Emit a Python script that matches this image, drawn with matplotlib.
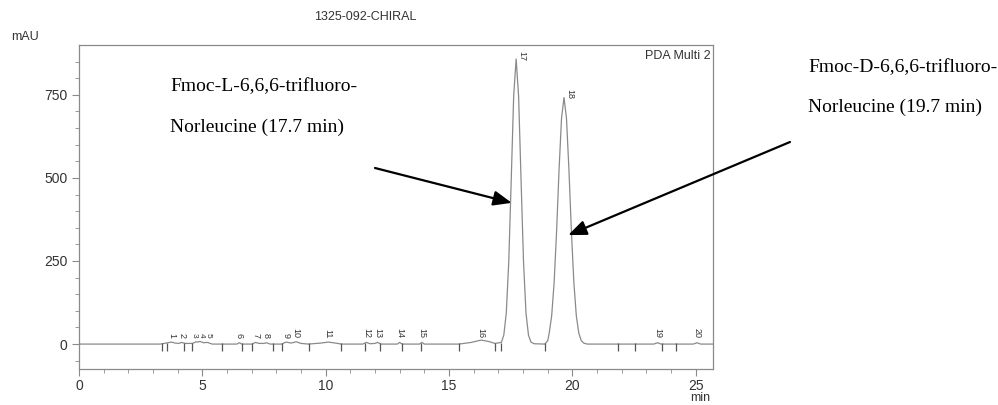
import numpy as np
import matplotlib
matplotlib.use("Agg")
import matplotlib.pyplot as plt

# chromatogram trace (time in min, signal in mAU)
time = [0.0, 3.3, 3.45, 3.6, 3.75, 3.9, 4.05, 4.16, 4.3, 4.6, 4.75, 4.82,
        4.9, 5.05, 5.2, 5.4, 6.4, 6.5, 6.6, 7.02, 7.15, 7.3, 7.5, 7.6, 7.75,
        8.2, 8.4, 8.6, 8.8, 9.0, 9.3, 9.8, 10.1, 10.4, 10.63, 11.5, 11.65,
        11.8, 12.0, 12.1, 12.25, 12.9, 13.0, 13.1, 13.8, 13.9, 14.0, 15.4,
        15.9, 16.3, 16.6, 16.86,
        17.12, 17.22, 17.32, 17.42, 17.52, 17.62, 17.72, 17.82, 17.92, 18.02,
        18.12, 18.22, 18.32, 18.45, 18.88,
        19.0, 19.06, 19.16, 19.26, 19.36, 19.46, 19.56, 19.66, 19.76, 19.86,
        19.96, 20.06, 20.16, 20.26, 20.36, 20.46, 20.6,
        21.8, 23.3, 23.45, 23.6, 24.9, 25.05, 25.2, 25.7]
signal = [0, 0, 2, 4, 6, 3, 2, 5, 2, 2, 7, 6,
          8, 4, 5, 0, 0, 4, 0, 0, 5, 2, 2, 4, 0,
          0, 6, 3, 7, 2, 0, 3, 6, 3, 0, 0, 5,
          1, 2, 5, 0, 0, 5, 0, 0, 5, 0, 0,
          5, 12, 8, 2,
          5, 27, 93, 246, 492, 746, 858, 746, 492, 246,
          93, 27, 6, 1, 0,
          10, 33, 85, 185, 340, 525, 680, 742, 680, 525,
          340, 185, 85, 33, 10, 3, 0,
          0, 0, 4, 0, 0, 4, 0, 0]

# peak numbers and their retention times
peak_ids = list(range(1, 21))
peak_rt = [3.75, 4.16, 4.68, 4.95, 5.22, 6.5, 7.17, 7.6, 8.4, 8.8,
           10.1, 11.65, 12.1, 13.0, 13.9, 16.3, 17.72, 19.66, 23.45, 25.05]
peak_height = [6, 5, 7, 8, 5, 4, 5, 4, 6, 7,
               6, 5, 5, 5, 5, 12, 858, 742, 4, 4]

# integration marks on the baseline
marks = [3.36, 3.55, 4.26, 4.6, 5.81, 6.59, 7.02, 7.86, 8.21, 9.31, 10.63,
         11.58, 12.21, 13.11, 13.85, 15.42, 16.86, 17.11, 18.88, 21.84,
         22.52, 23.62, 24.18]

grey = "#8a8a8a"
txt = "#333333"

plt.rcParams["font.family"] = ["Liberation Sans", "DejaVu Sans"]

fig = plt.figure(figsize=(9.98, 4.05), dpi=100)
ax = fig.add_axes([79 / 998, 36 / 405, 634 / 998, 324 / 405])

ax.plot(time, signal, color=grey, lw=0.9)
ax.vlines(marks, -22, 4, color="#555555", lw=0.9)

for pid, rt, h in zip(peak_ids, peak_rt, peak_height):
    if h > 100:
        ax.text(rt + 0.25, h - 5, str(pid), rotation=-90, ha="center",
                va="bottom", fontsize=6.5, color=txt)
    else:
        ax.text(rt, 18, str(pid), rotation=-90, ha="center", va="bottom",
                fontsize=6 if 3 <= pid <= 5 else 6.5, color=txt)

ax.set_xlim(0, 25.7)
ax.set_ylim(-75, 900)
ax.set_xticks([0, 5, 10, 15, 20, 25])
ax.set_xticks(np.arange(0, 26, 1), minor=True)
ax.set_yticks([0, 250, 500, 750])
ax.set_yticks(np.arange(-50, 900, 50), minor=True)
ax.tick_params(which="both", direction="out", colors=grey, labelcolor=txt,
               labelsize=10)
ax.tick_params(which="major", length=5)
ax.tick_params(which="minor", length=3)
ax.tick_params(axis="x", pad=2)
for s in ax.spines.values():
    s.set_color(grey)
    s.set_linewidth(0.9)

ax.text(0.997, 0.985, "PDA Multi 2", transform=ax.transAxes, ha="right",
        va="top", fontsize=9, color=txt)
fig.text(365 / 998, 1 - 17 / 405, "1325-092-CHIRAL", ha="center",
         va="center", fontsize=9, color=txt)
fig.text(25 / 998, 1 - 37 / 405, "mAU", ha="center", va="center",
         fontsize=9, color=txt)
fig.text(700 / 998, 1 / 405, "min", ha="center", va="bottom",
         fontsize=9, color=txt)

serif = dict(family="Liberation Serif", fontsize=14, color="black",
             va="center", ha="left")
fig.text(170 / 998, 1 - 87 / 405, "Fmoc-L-6,6,6-trifluoro-", **serif)
fig.text(170 / 998, 1 - 127 / 405, "Norleucine (17.7 min)", **serif)
fig.text(808 / 998, 1 - 68 / 405, "Fmoc-D-6,6,6-trifluoro-", **serif)
fig.text(808 / 998, 1 - 107 / 405, "Norleucine (19.7 min)", **serif)

arrow = dict(arrowstyle="-|>,head_length=1.1,head_width=0.45", color="black",
             lw=1.6, shrinkA=0, shrinkB=0)
ax.annotate("", xy=(17.54, 425), xytext=(375 / 998, 1 - 168 / 405),
            textcoords="figure fraction", arrowprops=arrow,
            annotation_clip=False)
ax.annotate("", xy=(19.83, 328), xytext=(790 / 998, 1 - 142 / 405),
            textcoords="figure fraction", arrowprops=arrow,
            annotation_clip=False)

fig.savefig("out.png", dpi=100)
